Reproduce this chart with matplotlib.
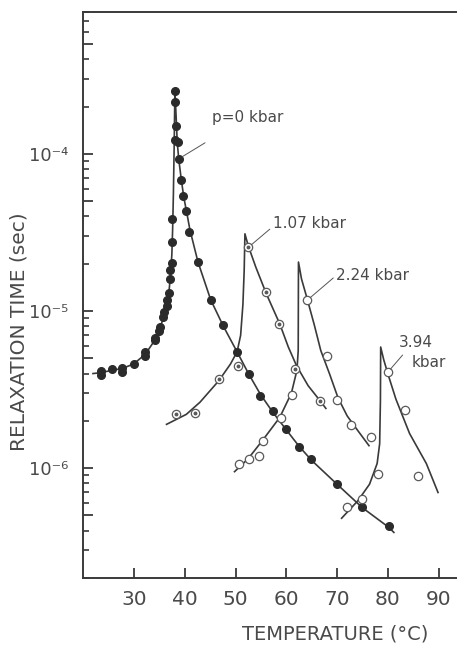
import numpy as np
import matplotlib
matplotlib.use('Agg')
import matplotlib.pyplot as plt
from matplotlib.ticker import FixedLocator, NullFormatter

# measured points: temperature (C), relaxation time (s)
p0_T = [23.4, 23.4, 25.7, 27.6, 27.6, 29.9, 32.2, 32.2, 34.2, 34.2, 35.0, 35.1,
        35.7, 35.9, 36.4, 36.5, 36.8, 37.1, 37.1, 37.5, 37.4, 37.5, 38.1, 38.1,
        38.2, 38.1, 38.6, 38.8, 39.3, 39.6, 40.3, 40.9, 42.6, 45.1, 47.6, 50.3,
        52.6, 54.9, 57.3, 59.9, 62.5, 64.9, 70.0, 75.0, 80.2]
p0_tau = [4.14e-6, 3.9e-6, 4.27e-6, 4.35e-6, 4.08e-6, 4.6e-6, 5.47e-6, 5.2e-6,
          6.76e-6, 6.5e-6, 7.5e-6, 7.9e-6, 9.1e-6, 9.8e-6, 1.08e-5, 1.17e-5,
          1.3e-5, 1.6e-5, 1.83e-5, 2.01e-5, 2.75e-5, 3.86e-5, 2.5e-4, 2.13e-4,
          1.51e-4, 1.22e-4, 1.19e-4, 9.3e-5, 6.8e-5, 5.4e-5, 4.36e-5, 3.17e-5,
          2.04e-5, 1.17e-5, 8.1e-6, 5.47e-6, 3.95e-6, 2.9e-6, 2.3e-6, 1.78e-6,
          1.36e-6, 1.15e-6, 7.9e-7, 5.65e-7, 4.26e-7]

p107_T = [38.2, 42.0, 46.7, 50.5, 52.5, 56.0, 58.6, 61.8, 66.6]
p107_tau = [2.21e-6, 2.25e-6, 3.69e-6, 4.45e-6, 2.54e-5, 1.32e-5, 8.3e-6,
            4.3e-6, 2.67e-6]

p224_T = [50.7, 52.6, 54.6, 55.4, 58.9, 61.2, 64.1, 68.1, 70.0, 72.8, 76.7]
p224_tau = [1.06e-6, 1.14e-6, 1.2e-6, 1.48e-6, 2.08e-6, 2.92e-6, 1.17e-5,
            5.2e-6, 2.7e-6, 1.88e-6, 1.57e-6]

p394_T = [72.0, 75.0, 78.1, 80.0, 83.4, 85.9]
p394_tau = [5.7e-7, 6.4e-7, 9.2e-7, 4.08e-6, 2.35e-6, 8.9e-7]

# drawn curves
c0_T = [21.9, 23.4, 25.7, 27.6, 29.9, 32.2, 34.2, 35.0, 35.9, 36.5, 36.9, 37.2,
        37.45, 37.6, 37.75, 37.9, 38.05, 38.3, 38.5, 38.8, 39.3, 39.8, 40.4,
        41.0, 42.6, 45.1, 47.6, 50.3, 52.6, 54.9, 57.3, 59.9, 62.5, 65.0,
        70.0, 75.0, 80.2, 81.2]
c0_tau = [4.0e-6, 4.05e-6, 4.2e-6, 4.3e-6, 4.6e-6, 5.3e-6, 6.6e-6, 7.6e-6,
          9.3e-6, 1.12e-5, 1.35e-5, 1.7e-5, 2.3e-5, 3.3e-5, 5.5e-5, 1.1e-4,
          2.55e-4, 1.7e-4, 1.2e-4, 9.3e-5, 6.9e-5, 5.3e-5, 4.2e-5, 3.3e-5,
          2.05e-5, 1.18e-5, 8.0e-6, 5.5e-6, 3.97e-6, 2.95e-6, 2.28e-6, 1.77e-6,
          1.38e-6, 1.12e-6, 7.9e-7, 5.6e-7, 4.2e-7, 3.9e-7]

c107_T = [36.4, 40.3, 43.0, 46.7, 49.0, 50.3, 51.0, 51.45, 51.7, 51.85,
          52.5, 54.0, 56.1, 58.7, 60.4, 62.0, 64.3, 66.6, 67.8]
c107_tau = [1.9e-6, 2.2e-6, 2.63e-6, 3.6e-6, 4.6e-6, 5.5e-6, 7.0e-6, 1.1e-5,
            1.8e-5, 3.1e-5, 2.6e-5, 1.9e-5, 1.28e-5, 8.3e-6, 5.9e-6, 4.5e-6,
            3.35e-6, 2.7e-6, 2.4e-6]

c224_T = [49.8, 52.5, 55.3, 58.7, 61.0, 62.1, 62.35, 62.4, 63.0, 64.1, 65.5,
          66.8, 68.5, 70.2, 72.0, 74.0, 76.3]
c224_tau = [9.5e-7, 1.15e-6, 1.5e-6, 2.1e-6, 3.0e-6, 4.2e-6, 5.6e-6, 2.05e-5,
            1.6e-5, 1.2e-5, 8.2e-6, 5.6e-6, 4.0e-6, 2.8e-6, 2.15e-6, 1.75e-6,
            1.39e-6]

c394_T = [70.9, 74.1, 76.4, 77.9, 78.4, 78.55, 78.6, 79.2, 80.0, 81.6, 84.3,
          87.6, 89.9]
c394_tau = [4.8e-7, 6.2e-7, 7.9e-7, 1.07e-6, 1.43e-6, 2.7e-6, 5.9e-6, 4.9e-6,
            4.0e-6, 2.75e-6, 1.66e-6, 1.07e-6, 7.0e-7]

xticks = [30, 40, 50, 60, 70, 80, 90]
yticks = [1e-6, 1e-5, 1e-4]
ytick_labels = ['10\u207b\u2076', '10\u207b\u2075', '10\u207b\u2074']
yticks_mid = [5e-7, 5e-6, 5e-5, 5e-4]
yticks_minor = [m * 10.0**e for e in (-7, -6, -5, -4) for m in (2, 3, 4, 6, 7, 8, 9)]

ink = '#3a3a3a'
txt = '#4a4a4a'

fig = plt.figure(figsize=(4.57, 6.45), dpi=100)
ax = fig.add_axes([0.1823, 0.1039, 0.8328, 0.8775])
ax.set_yscale('log')
ax.set_xlim(20, 95)
ax.set_ylim(2e-7, 8e-4)

for T, tau in [(c0_T, c0_tau), (c107_T, c107_tau), (c224_T, c224_tau), (c394_T, c394_tau)]:
    ax.plot(T, tau, color=ink, lw=1.2, zorder=2)

ax.plot(p0_T, p0_tau, 'o', ms=5.5, color='#2b2b2b', zorder=3)
ax.plot(p107_T, p107_tau, 'o', ms=6, mfc='white', mec='#5a5a5a', mew=0.9, zorder=3)
ax.plot(p107_T, p107_tau, 'o', ms=1.8, color='#5a5a5a', zorder=4)
ax.plot(p224_T, p224_tau, 'o', ms=6, mfc='white', mec='#5a5a5a', mew=0.9, zorder=3)
ax.plot(p394_T, p394_tau, 'o', ms=6, mfc='white', mec='#5a5a5a', mew=0.9, zorder=3)

lead = dict(arrowstyle='-', color='#555555', lw=0.7, shrinkA=0, shrinkB=3)
ax.annotate('p=0 kbar', xy=(38.8, 9.3e-5), xytext=(45.4, 1.71e-4), fontsize=11,
            color=txt, ha='left', va='center',
            arrowprops=dict(lead, relpos=(-0.1, -1.2)))
ax.annotate('1.07 kbar', xy=(52.5, 2.54e-5), xytext=(57.3, 3.63e-5), fontsize=11,
            color=txt, ha='left', va='center',
            arrowprops=dict(lead, relpos=(0, 0.25)))
ax.annotate('2.24 kbar', xy=(64.1, 1.17e-5), xytext=(69.8, 1.68e-5), fontsize=11,
            color=txt, ha='left', va='center',
            arrowprops=dict(lead, relpos=(0, 0.5)))
ax.text(85.5, 6.3e-6, '3.94', fontsize=11, color=txt, ha='center', va='center')
ax.annotate('kbar', xy=(80.0, 4.08e-6), xytext=(88.0, 4.7e-6), fontsize=11,
            color=txt, ha='center', va='center',
            arrowprops=dict(lead, relpos=(-0.25, 1.0)))

ax.spines['right'].set_visible(False)
for s in ('left', 'bottom', 'top'):
    ax.spines[s].set_linewidth(1.4)
    ax.spines[s].set_color(ink)

ax.set_xticks(xticks)
ax.set_xticklabels([str(t) for t in xticks])
ax.tick_params(axis='x', direction='in', length=7, width=1.3, color=ink,
               labelsize=14.5, labelcolor=txt, pad=9)

ax.yaxis.set_major_locator(FixedLocator(yticks + yticks_mid))
ax.set_yticklabels(ytick_labels + [''] * len(yticks_mid))
ax.yaxis.set_minor_locator(FixedLocator(yticks_minor))
ax.yaxis.set_minor_formatter(NullFormatter())
ax.tick_params(axis='y', which='major', direction='in', length=7.5, width=1.3,
               color=ink, labelsize=13, labelcolor=txt, pad=11)
ax.tick_params(axis='y', which='minor', direction='in', length=4.3, width=1.2,
               color=ink)

ax.set_xlabel('TEMPERATURE (°C)', fontsize=14, color=txt)
ax.xaxis.set_label_coords(0.661, -0.082)
ax.set_ylabel('RELAXATION TIME (sec)', fontsize=14.5, color=txt)
ax.yaxis.set_label_coords(-0.145, 0.4355)

fig.savefig('out.png', dpi=100)
